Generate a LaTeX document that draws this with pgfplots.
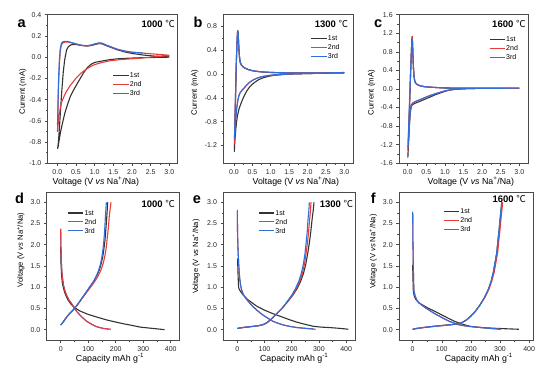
\documentclass[border=0pt]{standalone}
\usepackage{pgfplots}
\pgfplotsset{compat=1.18}
\usepackage{fontspec}
\setmainfont{Liberation Sans}
\newfontfamily\cjk{Noto Sans CJK SC}
\definecolor{cblk}{HTML}{333333}
\definecolor{cred}{HTML}{E63C3A}
\definecolor{cblu}{HTML}{2F6FDB}
\definecolor{axc}{HTML}{4A4A4A}
\pgfplotsset{
  panel/.style={
    scale only axis, anchor=south west,
    axis line style={axc, line width=0.55pt},
    tick style={axc, line width=0.55pt},
    major tick length=2.8pt, minor tick length=1.6pt,
    tick align=outside, xtick pos=lower, ytick pos=left,
    minor x tick num=1, minor y tick num=1,
    tick label style={font=\fontsize{7}{8}\selectfont, text=black!85},
    /pgf/number format/assume math mode=true,
    legend style={draw=none, fill=none, inner sep=0pt, outer sep=0pt, row sep=2.2pt, anchor=north west,
       font=\fontsize{7}{8}\selectfont, nodes={inner sep=0.6pt, text height=5pt, text depth=0.5pt}},
    legend cell align=left,
    legend image code/.code={\draw[#1] (0pt,0pt) -- (15.5pt,0pt);},
    every axis plot/.append style={line width=1.1pt, line join=round},
  },
  cvpanel/.style={panel, height=148.6pt,
    xtick={0,0.5,1,1.5,2,2.5,3},
    xticklabel style={/pgf/number format/fixed, /pgf/number format/fixed zerofill, /pgf/number format/precision=1},
    yticklabel style={/pgf/number format/fixed, /pgf/number format/fixed zerofill, /pgf/number format/precision=1},
    xlabel={Voltage (V \textit{vs} Na\textsuperscript{+}/Na)},
    ylabel={Current (mA)},
    xlabel style={font=\fontsize{8.8}{10}\selectfont, anchor=center},
    ylabel style={font=\fontsize{7.8}{9}\selectfont, anchor=center},
  },
  gcdpanel/.style={panel, height=148.4pt,
    ymin=-0.259, ymax=3.235,
    ytick={0,0.5,1,1.5,2,2.5,3},
    xtick={0,100,200,300,400},
    yticklabel style={/pgf/number format/fixed, /pgf/number format/fixed zerofill, /pgf/number format/precision=1},
    xlabel={Capacity mAh g\textsuperscript{-1}},
    ylabel={Voltage (V \textit{vs} Na\textsuperscript{+}/Na)},
    xlabel style={font=\fontsize{8.8}{9}\selectfont, anchor=center, inner sep=0pt},
    ylabel style={font=\fontsize{7.6}{9}\selectfont, anchor=center},
  },
}
\newcommand{\leg}{%
  \addlegendimage{cblk, line width=1.1pt}\addlegendentry{1st}
  \addlegendimage{cred, line width=1.1pt}\addlegendentry{2nd}
  \addlegendimage{cblu, line width=1.1pt}\addlegendentry{3rd}}
\begin{document}
\begin{tikzpicture}
\path[use as bounding box] (0pt,0pt) rectangle (554pt,369pt);
% ---------------- a
\begin{axis}[cvpanel, at={(47.7pt,205.7pt)}, width=130pt, xmin=-0.257, xmax=3.225, ymin=-1.0, ymax=0.4,
  ytick={-1,-0.8,-0.6,-0.4,-0.2,0,0.2,0.4},
  xlabel style={at={(axis description cs:0.37,-0.124)}},
  ylabel style={at={(axis description cs:-0.192,0.482)}},
  legend style={at={(axis description cs:0.5,0.614)}}]
\leg
\addplot[cblk, forget plot] coordinates {
(3.0,0.0)(2.6,-0.003)(2.2,-0.006)(1.9,-0.01)(1.6,-0.016)(1.4,-0.024)(1.25,-0.033)(1.1,-0.043)(1.0,-0.05)(0.9,-0.068)(0.8,-0.1)(0.7,-0.15)(0.6,-0.21)(0.5,-0.27)(0.42,-0.32)(0.35,-0.37)(0.27,-0.45)(0.2,-0.53)(0.14,-0.62)(0.09,-0.7)(0.05,-0.78)(0.02,-0.85)(0.01,-0.86)
(0.03,-0.8)(0.06,-0.65)(0.09,-0.48)(0.12,-0.32)(0.16,-0.14)(0.2,-0.02)(0.25,0.07)(0.3,0.1)(0.36,0.115)(0.43,0.12)(0.52,0.118)(0.65,0.11)(0.8,0.105)(0.92,0.11)(1.02,0.12)(1.12,0.128)(1.2,0.125)(1.3,0.11)(1.45,0.09)(1.6,0.07)(1.8,0.05)(2.0,0.035)(2.3,0.02)(2.6,0.01)(3.0,0.003)};
\addplot[cred, forget plot] coordinates {
(3.0,0.015)(2.75,0.007)(2.5,0.0)(2.25,-0.008)(2.0,-0.015)(1.8,-0.02)(1.6,-0.026)(1.4,-0.035)(1.2,-0.05)(1.0,-0.07)(0.88,-0.09)(0.75,-0.12)(0.62,-0.155)(0.52,-0.19)(0.43,-0.23)(0.34,-0.27)(0.25,-0.32)(0.18,-0.37)(0.12,-0.42)(0.08,-0.48)(0.05,-0.55)(0.03,-0.61)(0.015,-0.66)(0.005,-0.70)
(0.015,-0.55)(0.025,-0.38)(0.04,-0.2)(0.06,-0.04)(0.08,0.06)(0.11,0.115)(0.15,0.135)(0.2,0.142)(0.28,0.142)(0.36,0.136)(0.45,0.128)(0.55,0.118)(0.67,0.109)(0.8,0.106)(0.92,0.113)(1.02,0.125)(1.12,0.132)(1.2,0.129)(1.3,0.113)(1.45,0.093)(1.6,0.074)(1.8,0.057)(2.0,0.046)(2.3,0.038)(2.5,0.032)(2.75,0.025)(3.0,0.018)};
\addplot[cblu, forget plot] coordinates {
(0.005,-0.64)(0.015,-0.5)(0.025,-0.33)(0.04,-0.15)(0.06,-0.01)(0.08,0.08)(0.11,0.13)(0.15,0.145)(0.21,0.149)(0.28,0.147)(0.36,0.14)(0.45,0.131)(0.55,0.121)(0.67,0.111)(0.8,0.108)(0.92,0.115)(1.02,0.127)(1.12,0.135)(1.2,0.132)(1.3,0.116)(1.45,0.096)(1.6,0.076)(1.8,0.058)(2.0,0.047)(2.15,0.042)(2.3,0.04)};
\end{axis}
% ---------------- b
\begin{axis}[cvpanel, at={(223.3pt,205.7pt)}, width=129.5pt, xmin=-0.291, xmax=3.231, ymin=-1.5, ymax=1.0,
  ytick={-1.2,-0.8,-0.4,0,0.4,0.8},
  xlabel style={at={(axis description cs:0.56,-0.124)}},
  ylabel style={at={(axis description cs:-0.219,0.476)}},
  legend style={at={(axis description cs:0.675,0.861)}}]
\leg
\addplot[cblk, forget plot] coordinates {
(3.0,0.02)(2.5,0.015)(2.0,0.01)(1.6,0.003)(1.3,-0.008)(1.1,-0.02)(0.95,-0.035)(0.8,-0.06)(0.68,-0.09)(0.58,-0.13)(0.5,-0.17)(0.42,-0.22)(0.35,-0.28)(0.29,-0.35)(0.23,-0.43)(0.18,-0.51)(0.14,-0.58)(0.1,-0.68)(0.07,-0.8)(0.05,-0.92)(0.03,-1.07)(0.015,-1.22)(0.01,-1.3)
(0.02,-1.0)(0.035,-0.6)(0.05,-0.2)(0.065,0.2)(0.08,0.5)(0.095,0.68)(0.105,0.72)(0.115,0.66)(0.13,0.45)(0.15,0.27)(0.17,0.19)(0.2,0.15)(0.25,0.12)(0.3,0.1)(0.4,0.075)(0.5,0.058)(0.65,0.043)(0.8,0.035)(1.0,0.028)(1.3,0.022)(1.7,0.02)(2.2,0.02)(2.7,0.022)(3.0,0.025)};
\addplot[cred, forget plot] coordinates {
(3.0,0.025)(2.5,0.017)(2.0,0.01)(1.6,0.003)(1.3,-0.005)(1.1,-0.013)(0.95,-0.022)(0.8,-0.037)(0.68,-0.055)(0.58,-0.08)(0.5,-0.105)(0.42,-0.14)(0.35,-0.18)(0.28,-0.23)(0.22,-0.27)(0.17,-0.31)(0.14,-0.35)(0.11,-0.42)(0.085,-0.52)(0.06,-0.66)(0.04,-0.82)(0.025,-0.98)(0.015,-1.1)(0.01,-1.18)
(0.02,-0.9)(0.035,-0.5)(0.05,-0.1)(0.065,0.25)(0.08,0.52)(0.095,0.7)(0.105,0.73)(0.115,0.67)(0.13,0.46)(0.15,0.28)(0.17,0.2)(0.2,0.16)(0.25,0.125)(0.3,0.1)(0.4,0.075)(0.5,0.058)(0.65,0.045)(0.8,0.036)(1.0,0.029)(1.3,0.023)(1.7,0.02)(2.2,0.02)(2.7,0.023)(3.0,0.027)};
\addplot[cblu, forget plot] coordinates {
(3.0,0.025)(2.5,0.017)(2.0,0.01)(1.6,0.003)(1.3,-0.005)(1.1,-0.013)(0.95,-0.022)(0.8,-0.037)(0.68,-0.055)(0.58,-0.08)(0.5,-0.105)(0.42,-0.14)(0.35,-0.18)(0.28,-0.23)(0.22,-0.27)(0.17,-0.31)(0.14,-0.35)(0.11,-0.42)(0.085,-0.52)(0.06,-0.66)(0.04,-0.82)(0.025,-0.96)(0.012,-1.08)
(0.022,-0.85)(0.036,-0.5)(0.05,-0.1)(0.065,0.25)(0.08,0.52)(0.095,0.71)(0.105,0.735)(0.115,0.68)(0.13,0.47)(0.15,0.29)(0.17,0.2)(0.2,0.16)(0.25,0.125)(0.3,0.1)(0.4,0.075)(0.5,0.058)(0.65,0.045)(0.8,0.036)(1.0,0.029)(1.3,0.023)(1.7,0.02)(2.2,0.02)(2.7,0.023)(3.0,0.028)};
\end{axis}
% ---------------- c
\begin{axis}[cvpanel, at={(399pt,205.7pt)}, width=129pt, xmin=-0.234, xmax=3.234, ymin=-1.6, ymax=1.6,
  ytick={-1.6,-1.2,-0.8,-0.4,0,0.4,0.8,1.2,1.6},
  xlabel style={at={(axis description cs:0.557,-0.124)}},
  ylabel style={at={(axis description cs:-0.212,0.476)}},
  legend style={at={(axis description cs:0.698,0.857)}}]
\leg
\addplot[cblk, forget plot] coordinates {
(3.0,0.02)(2.5,0.018)(2.0,0.015)(1.6,0.008)(1.3,-0.005)(1.15,-0.02)(1.0,-0.05)(0.88,-0.085)(0.75,-0.12)(0.64,-0.16)(0.52,-0.2)(0.42,-0.235)(0.33,-0.265)(0.25,-0.29)(0.19,-0.31)(0.14,-0.33)(0.1,-0.37)(0.08,-0.45)(0.06,-0.6)(0.045,-0.8)(0.03,-1.05)(0.015,-1.3)(0.005,-1.47)
(0.02,-1.1)(0.04,-0.6)(0.06,-0.1)(0.08,0.4)(0.1,0.85)(0.115,1.1)(0.122,1.13)(0.13,1.0)(0.14,0.75)(0.155,0.45)(0.17,0.27)(0.19,0.17)(0.22,0.12)(0.27,0.09)(0.35,0.065)(0.45,0.05)(0.6,0.04)(0.8,0.03)(1.0,0.022)(1.3,0.018)(1.8,0.016)(2.4,0.016)(3.0,0.02)};
\addplot[cred, forget plot] coordinates {
(3.0,0.02)(2.5,0.018)(2.0,0.015)(1.6,0.008)(1.3,-0.004)(1.15,-0.017)(1.0,-0.04)(0.88,-0.07)(0.75,-0.1)(0.64,-0.13)(0.52,-0.165)(0.42,-0.2)(0.33,-0.23)(0.25,-0.255)(0.19,-0.275)(0.14,-0.3)(0.1,-0.34)(0.08,-0.42)(0.06,-0.57)(0.045,-0.77)(0.03,-1.0)(0.015,-1.2)(0.008,-1.32)
(0.02,-1.0)(0.04,-0.55)(0.06,-0.08)(0.08,0.4)(0.1,0.84)(0.115,1.09)(0.122,1.12)(0.13,0.99)(0.14,0.74)(0.155,0.45)(0.17,0.27)(0.19,0.17)(0.22,0.12)(0.27,0.09)(0.35,0.065)(0.45,0.05)(0.6,0.04)(0.8,0.03)(1.0,0.022)(1.3,0.018)(1.8,0.016)(2.4,0.016)(3.0,0.02)};
\addplot[cblu, forget plot] coordinates {
(3.0,0.02)(2.5,0.018)(2.0,0.015)(1.6,0.008)(1.3,-0.004)(1.15,-0.017)(1.0,-0.04)(0.88,-0.07)(0.75,-0.1)(0.64,-0.13)(0.52,-0.165)(0.42,-0.2)(0.33,-0.23)(0.25,-0.255)(0.19,-0.275)(0.14,-0.3)(0.1,-0.34)(0.08,-0.42)(0.06,-0.57)(0.045,-0.77)(0.03,-1.0)(0.015,-1.18)(0.008,-1.26)
(0.02,-0.95)(0.04,-0.5)(0.06,-0.05)(0.08,0.4)(0.1,0.82)(0.115,1.04)(0.122,1.07)(0.13,0.96)(0.14,0.72)(0.155,0.44)(0.17,0.27)(0.19,0.17)(0.22,0.12)(0.27,0.09)(0.35,0.065)(0.45,0.05)(0.6,0.04)(0.8,0.03)(1.0,0.022)(1.3,0.018)(1.8,0.016)(2.4,0.016)(3.0,0.02)};
\end{axis}
% ---------------- d
\begin{axis}[gcdpanel, at={(46.7pt,28.3pt)}, width=132.5pt, xmin=-50.9, xmax=430.9,
  xlabel style={at={(axis description cs:0.478,-0.12)}},
  ylabel style={at={(axis description cs:-0.196,0.611)}},
  legend style={at={(axis description cs:0.156,0.883)}}]
\leg
\addplot[cblu, forget plot] coordinates {(0,2.3)(0.5,2.05)(1,1.84)(3,1.5)(5,1.3)(10,1.05)(16,0.9)(22,0.8)(30,0.7)(40,0.61)(50,0.51)(58,0.43)(75,0.31)(94,0.2)(115,0.12)(131,0.07)(155,0.03)(178,0.01)};
\addplot[cblk, forget plot] coordinates {(0,1.95)(1,1.6)(3,1.3)(6,1.1)(10,0.98)(16,0.85)(25,0.72)(35,0.62)(50,0.52)(70,0.44)(100,0.36)(130,0.3)(167,0.23)(200,0.18)(228,0.14)(260,0.1)(290,0.06)(320,0.04)(350,0.02)(378,0.0)};
\addplot[cred, forget plot] coordinates {(0,2.38)(0.5,2.1)(1,1.84)(3,1.5)(5,1.3)(10,1.05)(16,0.9)(22,0.8)(30,0.7)(40,0.61)(50,0.51)(58,0.43)(75,0.31)(94,0.2)(115,0.12)(131,0.07)(155,0.03)(170,0.018)(182,0.01)};
\addplot[cblk, forget plot] coordinates {(0,0.11)(10,0.19)(22,0.3)(35,0.4)(46,0.47)(60,0.58)(75,0.72)(90,0.86)(105,1.0)(119,1.13)(131,1.27)(140,1.4)(147,1.55)(153,1.72)(157,1.9)(161,2.1)(164,2.35)(167,2.6)(169,2.8)(171,3.0)};
\addplot[cred, forget plot] coordinates {(0,0.11)(10,0.19)(22,0.3)(35,0.4)(46,0.47)(60,0.58)(75,0.71)(90,0.84)(105,0.97)(120,1.1)(135,1.25)(146,1.4)(155,1.57)(161,1.75)(166,1.95)(170,2.2)(174,2.45)(177,2.7)(180,2.85)(183,3.0)};
\addplot[cblu, forget plot] coordinates {(0,0.11)(10,0.19)(22,0.3)(35,0.4)(46,0.47)(60,0.58)(75,0.72)(90,0.86)(105,1.0)(119,1.13)(130,1.27)(138,1.4)(145,1.55)(150,1.72)(154,1.9)(157,2.1)(160,2.35)(162,2.6)(164,2.8)(166,3.0)};
\end{axis}
% ---------------- e
\begin{axis}[gcdpanel, at={(223.3pt,28.3pt)}, width=132pt, xmin=-51.5, xmax=433.8,
  xlabel style={at={(axis description cs:0.537,-0.12)}},
  ylabel style={at={(axis description cs:-0.207,0.566)}},
  legend style={at={(axis description cs:0.265,0.883)}}]
\leg
\addplot[cblk, forget plot] coordinates {(1,1.68)(2,1.45)(3,1.25)(4,1.1)(5,0.99)(8,0.94)(12,0.9)(20,0.83)(30,0.76)(40,0.7)(55,0.63)(70,0.56)(85,0.51)(100,0.46)(130,0.38)(160,0.31)(190,0.24)(220,0.175)(250,0.125)(280,0.08)(310,0.06)(340,0.05)(370,0.035)(395,0.02)(408,0.01)};
\addplot[cred, forget plot] coordinates {(0,2.8)(0.5,2.5)(1,2.25)(2,2.0)(3,1.82)(5,1.55)(7,1.35)(9,1.2)(12,1.05)(16,0.93)(22,0.83)(30,0.75)(40,0.67)(55,0.56)(70,0.47)(85,0.39)(100,0.32)(115,0.26)(130,0.2)(150,0.15)(170,0.11)(195,0.075)(220,0.05)(245,0.035)(270,0.022)(288,0.01)};
\addplot[cblu, forget plot] coordinates {(0,2.82)(0.5,2.5)(1,2.25)(2,2.0)(3,1.82)(5,1.55)(7,1.35)(9,1.2)(12,1.05)(16,0.93)(22,0.83)(30,0.75)(40,0.67)(55,0.56)(70,0.47)(85,0.39)(100,0.32)(115,0.26)(130,0.2)(150,0.15)(170,0.11)(195,0.075)(220,0.05)(245,0.035)(270,0.02)(280,0.015)};
\addplot[cblk, forget plot] coordinates {(0,0.03)(10,0.04)(25,0.055)(41,0.065)(60,0.08)(78,0.095)(95,0.12)(108,0.16)(118,0.21)(130,0.28)(145,0.38)(164,0.5)(184,0.65)(205,0.82)(220,0.97)(233,1.14)(243,1.32)(252,1.55)(259,1.8)(265,2.05)(270,2.3)(275,2.6)(279,2.8)(282,3.0)};
\addplot[cred, forget plot] coordinates {(0,0.03)(10,0.04)(25,0.055)(41,0.065)(60,0.08)(78,0.095)(95,0.12)(108,0.16)(118,0.21)(130,0.28)(145,0.38)(164,0.5)(183,0.65)(203,0.82)(217,0.97)(229,1.14)(239,1.32)(247,1.55)(253,1.8)(258,2.05)(262,2.3)(266,2.6)(269,2.8)(271,3.0)};
\addplot[cblu, forget plot] coordinates {(0,0.03)(10,0.04)(25,0.055)(41,0.065)(60,0.08)(78,0.095)(95,0.12)(108,0.16)(118,0.21)(130,0.28)(145,0.38)(164,0.5)(182,0.65)(201,0.82)(214,0.97)(226,1.14)(235,1.32)(243,1.55)(249,1.8)(253,2.05)(257,2.3)(260,2.6)(263,2.8)(265,3.0)};
\end{axis}
% ---------------- f
\begin{axis}[gcdpanel, at={(399pt,28.3pt)}, width=134pt, xmin=-47, xmax=413.4,
  xlabel style={at={(axis description cs:0.596,-0.12)}},
  ylabel style={at={(axis description cs:-0.192,0.6)}},
  legend style={at={(axis description cs:0.33,0.894)}}]
\leg
\addplot[cblk, forget plot] coordinates {(0,1.52)(1,1.2)(2,0.93)(5,0.8)(10,0.72)(20,0.64)(37,0.57)(55,0.5)(71,0.45)(88,0.39)(105,0.33)(122,0.27)(140,0.21)(165,0.14)(197,0.08)(237,0.05)(277,0.035)(320,0.022)(365,0.01)};
\addplot[cred, forget plot] coordinates {(0,2.75)(0.5,2.4)(1,2.0)(2,1.56)(3,1.2)(4,0.93)(8,0.8)(14,0.7)(22,0.63)(31,0.58)(45,0.51)(59,0.45)(75,0.38)(94,0.31)(110,0.25)(128,0.19)(145,0.15)(162,0.11)(190,0.08)(220,0.06)(260,0.035)(303,0.01)};
\addplot[cblu, forget plot] coordinates {(0,2.78)(0.5,2.4)(1,2.0)(2,1.56)(3,1.2)(4,0.93)(8,0.8)(14,0.7)(22,0.63)(31,0.58)(45,0.51)(59,0.45)(75,0.38)(94,0.31)(110,0.25)(128,0.19)(145,0.15)(162,0.11)(190,0.08)(220,0.06)(260,0.035)(300,0.012)};
\addplot[cblk, forget plot] coordinates {(0,0.01)(10,0.025)(25,0.04)(48,0.06)(75,0.08)(105,0.1)(135,0.12)(155,0.14)(170,0.17)(185,0.23)(200,0.32)(215,0.43)(231,0.58)(247,0.76)(260,0.95)(270,1.15)(277,1.35)(283,1.58)(289,1.82)(293,2.1)(297,2.35)(301,2.65)(304,2.85)(306,3.0)};
\addplot[cred, forget plot] coordinates {(0,0.01)(10,0.025)(25,0.04)(48,0.06)(75,0.08)(105,0.1)(135,0.12)(155,0.14)(170,0.17)(185,0.23)(200,0.32)(215,0.43)(231,0.58)(248,0.76)(262,0.95)(272,1.15)(280,1.35)(286,1.58)(292,1.82)(296,2.1)(300,2.35)(304,2.65)(307,2.85)(309,3.0)};
\addplot[cblu, forget plot] coordinates {(0,0.01)(10,0.025)(25,0.04)(48,0.06)(75,0.08)(105,0.1)(135,0.12)(155,0.14)(170,0.17)(185,0.23)(200,0.32)(215,0.43)(231,0.58)(247,0.76)(260,0.95)(270,1.15)(277,1.35)(283,1.58)(289,1.82)(293,2.1)(297,2.35)(301,2.65)(304,2.85)(306,3.0)};
\end{axis}
% panel letters and temperatures
\begin{scope}[every node/.style={inner sep=0pt}]
\node[anchor=base west, font=\fontsize{14.5}{15}\selectfont\bfseries] at (17.3pt,341.7pt) {a};
\node[anchor=base west, font=\fontsize{14.5}{15}\selectfont\bfseries] at (193.3pt,341.7pt) {b};
\node[anchor=base west, font=\fontsize{14.5}{15}\selectfont\bfseries] at (374pt,341.7pt) {c};
\node[anchor=base west, font=\fontsize{14.5}{15}\selectfont\bfseries] at (15pt,165pt) {d};
\node[anchor=base west, font=\fontsize{14.5}{15}\selectfont\bfseries] at (192.7pt,165pt) {e};
\node[anchor=base west, font=\fontsize{14.5}{15}\selectfont\bfseries] at (370.7pt,165.7pt) {f};
\node[anchor=base east, font=\fontsize{9.5}{10}\selectfont] at (175pt,341.7pt) {\textbf{1000} {\cjk ℃}};
\node[anchor=base east, font=\fontsize{9.5}{10}\selectfont] at (348.3pt,341.7pt) {\textbf{1300} {\cjk ℃}};
\node[anchor=base east, font=\fontsize{9.5}{10}\selectfont] at (525.7pt,341.7pt) {\textbf{1600} {\cjk ℃}};
\node[anchor=base east, font=\fontsize{9.5}{10}\selectfont] at (175pt,161.7pt) {\textbf{1000} {\cjk ℃}};
\node[anchor=base east, font=\fontsize{9.5}{10}\selectfont] at (353.3pt,161.7pt) {\textbf{1300} {\cjk ℃}};
\node[anchor=base east, font=\fontsize{9.5}{10}\selectfont] at (526pt,166.3pt) {\textbf{1600} {\cjk ℃}};
\end{scope}
\end{tikzpicture}
\end{document}
